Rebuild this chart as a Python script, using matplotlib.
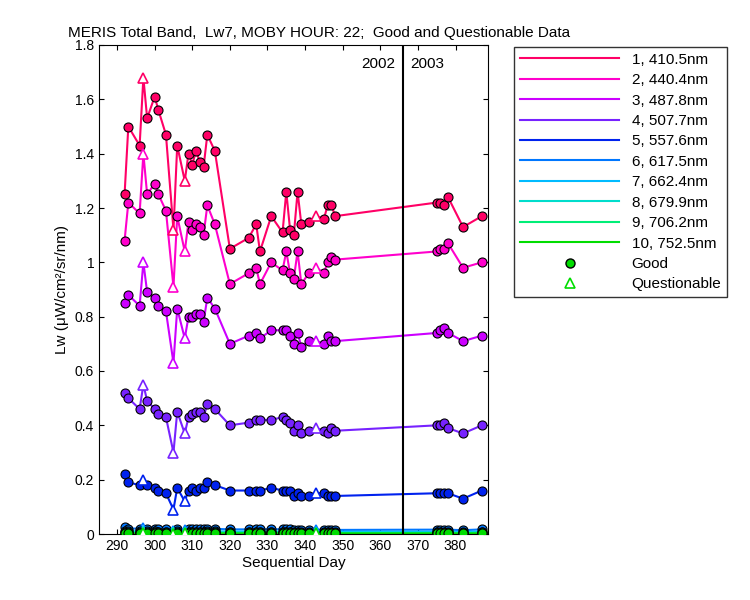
import matplotlib
matplotlib.use("Agg")
import matplotlib.pyplot as plt
from matplotlib.lines import Line2D

plt.rcParams['font.family'] = 'Liberation Sans'

days = [292, 293, 296, 297, 298, 300, 301, 303, 305, 306, 308, 309, 310, 311, 312, 313, 314, 316, 320, 325,
        327, 328, 331, 334, 335, 336, 337, 338, 339, 341, 343, 345, 346, 347, 348, 375, 376, 377, 378, 382, 387]
questionable_days = [297, 305, 308, 343]

s1 = [1.25, 1.50, 1.43, 1.68, 1.53, 1.61, 1.56, 1.47, 1.12, 1.43, 1.30, 1.40, 1.36, 1.41, 1.37, 1.35, 1.47, 1.41, 1.05, 1.09,
      1.14, 1.04, 1.17, 1.11, 1.26, 1.12, 1.10, 1.26, 1.14, 1.15, 1.17, 1.16, 1.21, 1.21, 1.17, 1.22, 1.22, 1.21, 1.24, 1.13, 1.17]
s2 = [1.08, 1.22, 1.18, 1.40, 1.25, 1.29, 1.25, 1.19, 0.91, 1.17, 1.04, 1.15, 1.12, 1.14, 1.13, 1.10, 1.21, 1.14, 0.92, 0.96,
      0.98, 0.92, 1.00, 0.97, 1.04, 0.96, 0.94, 1.04, 0.92, 0.96, 0.98, 0.96, 1.00, 1.02, 1.01, 1.04, 1.05, 1.05, 1.07, 0.98, 1.00]
s3 = [0.85, 0.88, 0.84, 1.00, 0.89, 0.87, 0.84, 0.82, 0.63, 0.83, 0.72, 0.80, 0.80, 0.81, 0.81, 0.78, 0.87, 0.83, 0.70, 0.73,
      0.74, 0.72, 0.75, 0.75, 0.75, 0.73, 0.70, 0.74, 0.69, 0.71, 0.71, 0.70, 0.73, 0.71, 0.71, 0.74, 0.75, 0.76, 0.74, 0.71, 0.73]
s4 = [0.52, 0.50, 0.46, 0.55, 0.49, 0.46, 0.44, 0.43, 0.30, 0.45, 0.37, 0.43, 0.44, 0.45, 0.45, 0.43, 0.48, 0.46, 0.40, 0.41,
      0.42, 0.42, 0.42, 0.43, 0.42, 0.41, 0.38, 0.40, 0.37, 0.38, 0.39, 0.38, 0.37, 0.39, 0.38, 0.40, 0.40, 0.41, 0.39, 0.37, 0.40]
s5 = [0.22, 0.19, 0.18, 0.20, 0.18, 0.17, 0.16, 0.15, 0.09, 0.17, 0.12, 0.16, 0.17, 0.16, 0.17, 0.17, 0.19, 0.18, 0.16, 0.16,
      0.16, 0.16, 0.17, 0.16, 0.16, 0.16, 0.14, 0.15, 0.14, 0.14, 0.15, 0.15, 0.14, 0.14, 0.14, 0.15, 0.15, 0.15, 0.15, 0.13, 0.16]
s6 = [0.025, 0.020, 0.020, 0.022, 0.020, 0.019, 0.018, 0.017, 0.012, 0.019, 0.015, 0.018, 0.018, 0.018, 0.018, 0.018, 0.020, 0.019, 0.017, 0.017,
      0.017, 0.017, 0.018, 0.017, 0.017, 0.017, 0.015, 0.016, 0.015, 0.015, 0.016, 0.016, 0.015, 0.015, 0.015, 0.016, 0.016, 0.016, 0.016, 0.014, 0.017]
s7 = [0.012, 0.010, 0.010, 0.011, 0.010, 0.010, 0.009, 0.009, 0.006, 0.010, 0.008, 0.009, 0.009, 0.009, 0.009, 0.009, 0.010, 0.010, 0.009, 0.009,
      0.009, 0.009, 0.009, 0.009, 0.009, 0.009, 0.008, 0.008, 0.008, 0.008, 0.008, 0.008, 0.008, 0.008, 0.008, 0.008, 0.008, 0.008, 0.008, 0.007, 0.009]
s8 = [0.008, 0.007, 0.007, 0.008, 0.007, 0.007, 0.006, 0.006, 0.004, 0.007, 0.005, 0.006, 0.006, 0.006, 0.006, 0.006, 0.007, 0.007, 0.006, 0.006,
      0.006, 0.006, 0.006, 0.006, 0.006, 0.006, 0.005, 0.005, 0.005, 0.005, 0.005, 0.005, 0.005, 0.005, 0.005, 0.005, 0.005, 0.005, 0.005, 0.005, 0.006]
s9 = [0.005, 0.004, 0.004, 0.005, 0.004, 0.004, 0.004, 0.004, 0.003, 0.004, 0.003, 0.004, 0.004, 0.004, 0.004, 0.004, 0.004, 0.004, 0.004, 0.004,
      0.004, 0.004, 0.004, 0.004, 0.004, 0.004, 0.003, 0.003, 0.003, 0.003, 0.003, 0.003, 0.003, 0.003, 0.003, 0.003, 0.003, 0.003, 0.003, 0.003, 0.004]
s10 = [0.003, 0.002, 0.002, 0.003, 0.002, 0.002, 0.002, 0.002, 0.001, 0.002, 0.002, 0.002, 0.002, 0.002, 0.002, 0.002, 0.002, 0.002, 0.002, 0.002,
       0.002, 0.002, 0.002, 0.002, 0.002, 0.002, 0.002, 0.002, 0.002, 0.002, 0.002, 0.002, 0.002, 0.002, 0.002, 0.002, 0.002, 0.002, 0.002, 0.002, 0.002]

series = [s1, s2, s3, s4, s5, s6, s7, s8, s9, s10]
labels = ["1, 410.5nm", "2, 440.4nm", "3, 487.8nm", "4, 507.7nm", "5, 557.6nm",
          "6, 617.5nm", "7, 662.4nm", "8, 679.9nm", "9, 706.2nm", "10, 752.5nm"]
colors = ["#ff0066", "#ff00cc", "#cc00ff", "#7722ff", "#0022ee",
          "#0077ff", "#00bbff", "#00ddcc", "#00ee77", "#00dd00"]

fig = plt.figure(figsize=(7.5, 6), dpi=100)
ax = fig.add_axes([0.132, 0.11, 0.519, 0.815])

for s, c, lab in zip(series, colors, labels):
    ax.plot(days, s, color=c, lw=1.5, label=lab, zorder=2)
    gx = [d for d in days if d not in questionable_days]
    gy = [v for d, v in zip(days, s) if d not in questionable_days]
    qx = [d for d in days if d in questionable_days]
    qy = [v for d, v in zip(days, s) if d in questionable_days]
    ax.plot(gx, gy, 'o', ms=6.5, mfc=c, mec='black', mew=0.8, zorder=3)
    ax.plot(qx, qy, '^', ms=7.5, mfc='white', mec=c, mew=1.2, zorder=3)

ax.axvline(366, color='black', lw=1.5)
ax.text(364, 1.73, "2002", ha='right', va='center', fontsize=11)
ax.text(368, 1.73, "2003", ha='left', va='center', fontsize=11)

ax.set_xlim(285.2, 388.7)
ax.set_ylim(0, 1.8)
ax.set_xticks(range(290, 390, 10))
ax.set_yticks([0, 0.2, 0.4, 0.6, 0.8, 1, 1.2, 1.4, 1.6, 1.8])
ax.set_yticklabels(["0", "0.2", "0.4", "0.6", "0.8", "1", "1.2", "1.4", "1.6", "1.8"])
ax.tick_params(direction='in', labelsize=10, top=True, right=True)
ax.set_xlabel("Sequential Day", fontsize=11, labelpad=2)
ax.set_ylabel("Lw (μW/cm²/sr/nm)", fontsize=11)
ax.set_title("MERIS Total Band,  Lw7, MOBY HOUR: 22;  Good and Questionable Data", fontsize=11, loc='left', x=-0.08)

handles = [Line2D([], [], color=c, lw=1.5) for c in colors]
handles += [Line2D([], [], ls='', marker='o', ms=6.5, mfc='#00dd00', mec='black'),
            Line2D([], [], ls='', marker='^', ms=7.5, mfc='white', mec='#00dd00', mew=1.2)]
fig.legend(handles, labels + ["Good", "Questionable"], loc='upper left',
           bbox_to_anchor=(0.675, 0.935), fontsize=11, frameon=True, fancybox=False,
           edgecolor='black', handlelength=6.5, labelspacing=0.42, borderpad=0.4)

fig.savefig("out.png", dpi=100)
